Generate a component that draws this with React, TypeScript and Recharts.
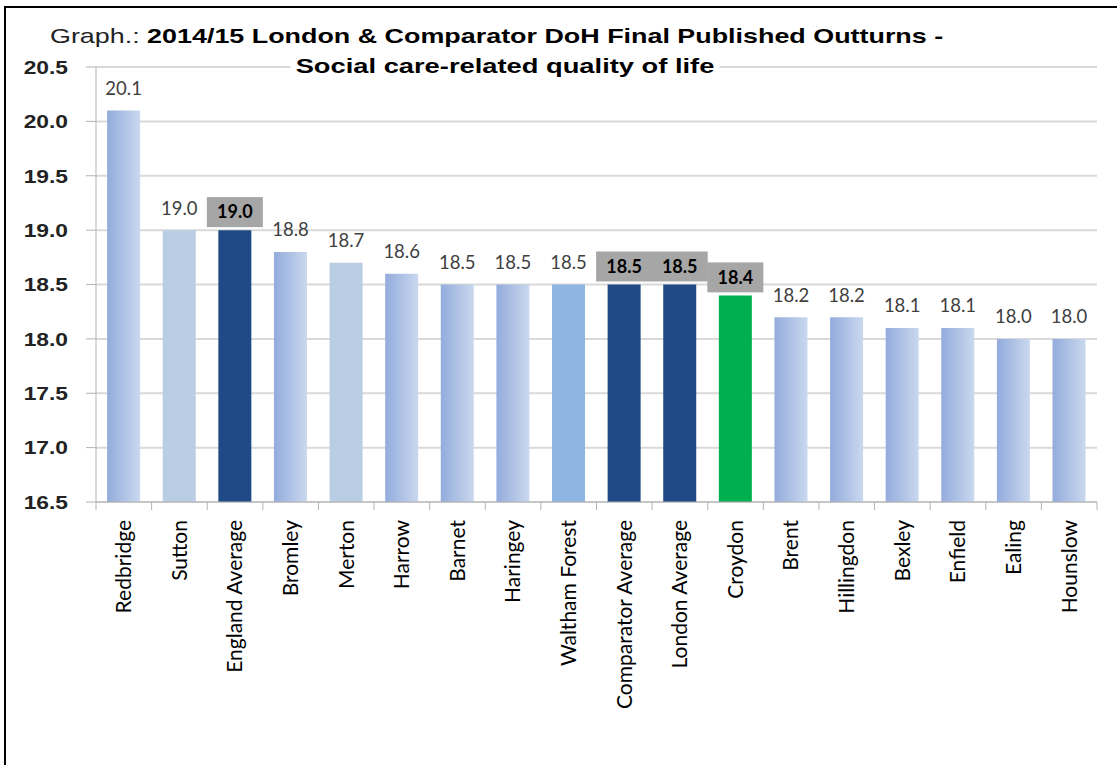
import React from 'react';
import { BarChart, Bar, XAxis, YAxis, CartesianGrid, Cell, LabelList } from 'recharts';

const boroughs = [
  'Redbridge', 'Sutton', 'England Average', 'Bromley', 'Merton', 'Harrow', 'Barnet', 'Haringey',
  'Waltham Forest', 'Comparator Average', 'London Average', 'Croydon', 'Brent', 'Hillingdon',
  'Bexley', 'Enfield', 'Ealing', 'Hounslow',
];
const scores = [20.1, 19.0, 19.0, 18.8, 18.7, 18.6, 18.5, 18.5, 18.5, 18.5, 18.5, 18.4, 18.2, 18.2, 18.1, 18.1, 18.0, 18.0];
const yTicks = [16.5, 17.0, 17.5, 18.0, 18.5, 19.0, 19.5, 20.0, 20.5];

// fills per borough (styles kept apart from the values)
const darkBars = ['England Average', 'Comparator Average', 'London Average'];
const flatLight = ['Sutton', 'Merton'];
const boxed = ['England Average', 'Comparator Average', 'London Average', 'Croydon'];

const fillFor = (name: string) => {
  if (darkBars.includes(name)) return '#1f4a85';
  if (name === 'Croydon') return '#00b050';
  if (flatLight.includes(name)) return '#b9cde5';
  if (name === 'Waltham Forest') return '#8db4e2';
  return 'url(#barGrad)';
};

const data = boroughs.map((name, i) => ({ name, value: scores[i] }));

const XTick = (props: any) => {
  const { x, y, payload, index } = props;
  const off = payload.offset ?? 27.8;
  return (
    <g>
      <line x1={x - off} x2={x - off} y1={y - 8} y2={y} stroke="#b3b3b3" />
      {index === boroughs.length - 1 && (
        <line x1={x + off} x2={x + off} y1={y - 8} y2={y} stroke="#b3b3b3" />
      )}
      <text
        x={x}
        y={y + 10}
        transform={`rotate(-90, ${x}, ${y + 10})`}
        textAnchor="end"
        dy="0.35em"
        fontFamily="Lato"
        fontSize={21}
        fill="#000"
      >
        {payload.value}
      </text>
    </g>
  );
};

// y labels in the source are a bit stretched sideways
const YTick = (props: any) => {
  const { x, y, payload } = props;
  return (
    <text
      transform={`translate(${x}, ${y}) scale(1.2, 1)`}
      dy="0.36em"
      textAnchor="end"
      fontFamily="Liberation Sans"
      fontWeight="bold"
      fontSize={19}
      fill="#222"
    >
      {Number(payload.value).toFixed(1)}
    </text>
  );
};

const ValueLabel = (props: any) => {
  const { x, y, width, value, index } = props;
  const cx = x + width / 2;
  const name = boroughs[index];
  const txt = Number(value).toFixed(1);
  if (boxed.includes(name)) {
    return (
      <g>
        <rect x={cx - 28} y={y - 33} width={56} height={30} fill="#a6a6a6" />
        <text x={cx} y={y - 18} dy="0.35em" textAnchor="middle" fontFamily="Lato" fontWeight="bold" fontSize={18} fill="#000">
          {txt}
        </text>
      </g>
    );
  }
  return (
    <text x={cx} y={y - 22} dy="0.35em" textAnchor="middle" fontFamily="Lato" fontSize={18.5} fill="#404040">
      {txt}
    </text>
  );
};

export default function App() {
  return (
    <div style={{ position: 'absolute', left: 0, top: 0, width: 1117, height: 765, background: '#fff', overflow: 'hidden' }}>
      <div
        style={{
          position: 'absolute', left: 4, top: 6, width: 1120, height: 770,
          borderLeft: '2px solid #000', borderTop: '2px solid #000',
        }}
      />
      <BarChart
        width={1117}
        height={765}
        data={data}
        margin={{ top: 67, right: 20, left: 0, bottom: 0 }}
        barCategoryGap="20%"
        style={{ position: 'absolute', left: 0, top: 0 }}
      >
        <defs>
          <linearGradient id="barGrad" x1="0" y1="0" x2="1" y2="0">
            <stop offset="0%" stopColor="#93acdc" />
            <stop offset="100%" stopColor="#cad8ef" />
          </linearGradient>
        </defs>
        <CartesianGrid vertical={false} stroke="#d9d9d9" strokeWidth={2} />
        <XAxis
          dataKey="name"
          interval={0}
          height={263}
          tickLine={false}
          axisLine={{ stroke: '#b3b3b3' }}
          tick={<XTick />}
        />
        <YAxis
          domain={[16.5, 20.5]}
          ticks={yTicks}
          width={96}
          tickSize={10}
          tickMargin={18}
          axisLine={{ stroke: '#b3b3b3' }}
          tickLine={{ stroke: '#b3b3b3' }}
          tick={<YTick />}
          allowDataOverflow
        />
        <Bar dataKey="value" isAnimationActive={false}>
          {data.map((d) => (
            <Cell key={d.name} fill={fillFor(d.name)} />
          ))}
          <LabelList dataKey="value" content={<ValueLabel />} />
        </Bar>
      </BarChart>
      <div
        style={{
          position: 'absolute', left: 50, top: 24, fontFamily: '"Liberation Sans", Arial', fontSize: 21,
          color: '#000', whiteSpace: 'nowrap', transform: 'scaleX(1.28)', transformOrigin: 'left center',
        }}
      >
        <span style={{ color: '#222' }}>Graph.: </span>
        <b>2014/15 London &amp; Comparator DoH Final Published Outturns -</b>
      </div>
      <div
        style={{
          position: 'absolute', left: 505, top: 54, fontFamily: '"Liberation Sans", Arial', fontSize: 21,
          fontWeight: 'bold', color: '#000', whiteSpace: 'nowrap', background: '#fff', padding: '0 4px',
          transform: 'translateX(-50%) scaleX(1.3)', transformOrigin: 'center center',
        }}
      >
        Social care-related quality of life
      </div>
    </div>
  );
}
